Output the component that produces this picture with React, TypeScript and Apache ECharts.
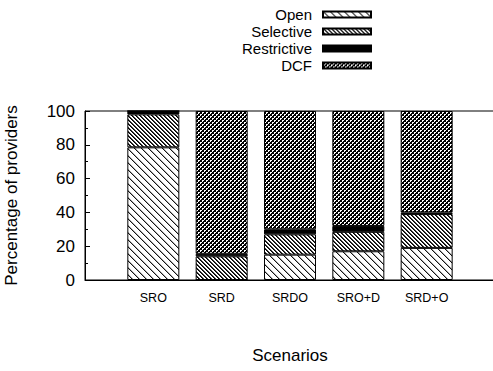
import React, { useEffect, useRef } from 'react';
import * as echarts from 'echarts';

const categories = ['SRO', 'SRD', 'SRDO', 'SRO+D', 'SRD+O'];
const openValues = [78.5, 0, 15, 17, 19];
const selectiveValues = [19.5, 14, 12, 11.5, 20];
const restrictiveValues = [2, 1.5, 3, 3.5, 1];
const dcfValues = [0, 84.5, 70, 68, 60];
const seriesNames = ['Open', 'Selective', 'Restrictive', 'DCF'];
const yMin = 0;
const yMax = 100;
const yStep = 20;

function makeTile(size: number, fn: (x: number, y: number) => number) {
  const c = document.createElement('canvas');
  c.width = size;
  c.height = size;
  const ctx = c.getContext('2d')!;
  const img = ctx.createImageData(size, size);
  for (let y = 0; y < size; y++) {
    for (let x = 0; x < size; x++) {
      const v = fn(x, y);
      const i = (y * size + x) * 4;
      img.data[i] = v;
      img.data[i + 1] = v;
      img.data[i + 2] = v;
      img.data[i + 3] = 255;
    }
  }
  ctx.putImageData(img, 0, 0);
  return c;
}

const FONT = '"Liberation Sans", Arial, Helvetica, sans-serif';

export default function App() {
  const ref = useRef<HTMLDivElement>(null);
  useEffect(() => {
    if (!ref.current) return;
    const chart = echarts.init(ref.current, undefined, { renderer: 'svg' });

    const openTile = makeTile(7, (x, y) => {
      const d = (((x - y) % 7) + 7) % 7;
      return d === 0 ? 20 : d === 1 ? 170 : 255;
    });
    const selTile = makeTile(4, (x, y) => {
      const d = (((x - y) % 4) + 4) % 4;
      return d === 0 ? 0 : d === 1 ? 60 : 255;
    });
    const dcfTile = makeTile(4, (x, y) => {
      const cell = ((x >> 1) + (y >> 1)) % 2;
      if (cell === 0) return 0;
      return x % 2 === 1 && y % 2 === 1 ? 0 : 255;
    });

    const fills: any[] = [
      { image: openTile, repeat: 'repeat' },
      { image: selTile, repeat: 'repeat' },
      '#000000',
      { image: dcfTile, repeat: 'repeat' },
    ];
    const values = [openValues, selectiveValues, restrictiveValues, dcfValues];

    const xCats = ['', ...categories, ''];

    chart.setOption({
      animation: false,
      backgroundColor: '#ffffff',
      textStyle: { fontFamily: FONT },
      legend: {
        data: seriesNames.map((n) => ({ name: n, icon: 'rect' })),
        orient: 'vertical',
        align: 'right',
        right: 121,
        top: 6,
        padding: 0,
        itemWidth: 48,
        itemHeight: 6,
        itemGap: 0,
        selectedMode: false,
        textStyle: {
          fontFamily: FONT,
          fontSize: 15,
          color: '#000',
          lineHeight: 17,
          padding: [0, 6, 0, 0],
        },
      },
      grid: {
        left: 85,
        top: 111,
        width: 410,
        height: 169,
        show: true,
        borderColor: '#000',
        borderWidth: 1,
        containLabel: false,
        outerBoundsMode: 'none',
      },
      xAxis: {
        type: 'category',
        data: xCats,
        boundaryGap: false,
        name: 'Scenarios',
        nameLocation: 'middle',
        nameGap: 67,
        nameTextStyle: { fontFamily: FONT, fontSize: 17, color: '#000' },
        axisLine: { show: true, lineStyle: { color: '#000', width: 1 } },
        axisTick: { show: false },
        axisLabel: {
          fontFamily: FONT,
          fontSize: 12.5,
          color: '#000',
          margin: 11,
          interval: 0,
        },
        splitLine: { show: false },
      },
      yAxis: {
        type: 'value',
        min: yMin,
        max: yMax,
        interval: yStep,
        name: 'Percentage of providers',
        nameLocation: 'middle',
        nameGap: 65,
        nameTextStyle: { fontFamily: FONT, fontSize: 17, color: '#000' },
        axisLine: { show: true, lineStyle: { color: '#000', width: 1 } },
        axisTick: { show: true, inside: true, length: 5, lineStyle: { color: '#000' } },
        minorTick: { show: true, splitNumber: 2, length: 3, lineStyle: { color: '#000' } },
        axisLabel: { fontFamily: FONT, fontSize: 17, color: '#000', margin: 10 },
        splitLine: { show: false },
      },
      series: seriesNames.map((name, si) => ({
        name,
        type: 'bar',
        stack: 'total',
        barWidth: 52,
        data: ['-', ...values[si], '-'],
        itemStyle: {
          color: fills[si],
          borderColor: '#000',
          borderWidth: 1,
        },
        emphasis: { disabled: true },
      })),
    });

    return () => {
      chart.dispose();
    };
  }, []);

  return (
    <div
      ref={ref}
      style={{ position: 'fixed', left: 0, top: 0, width: 493, height: 371, background: '#fff' }}
    />
  );
}
